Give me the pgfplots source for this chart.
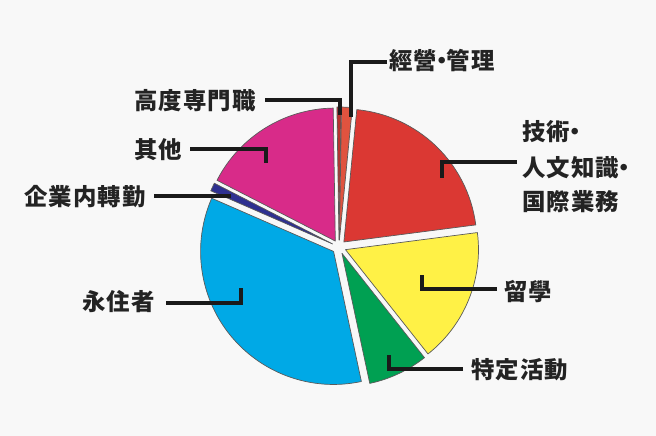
\documentclass[border=0pt]{standalone}
\usepackage{pgfplots}
\pgfplotsset{compat=1.18}
\usepackage{fontspec}
\newfontfamily\jp{Noto Sans CJK JP}[LetterSpace=5]

\definecolor{bgcol}{HTML}{F8F8F8}
\definecolor{edgecol}{HTML}{5A5A5A}
\definecolor{txtcol}{HTML}{232323}
\definecolor{linecol}{HTML}{1A1A1A}
\definecolor{hdcol}{HTML}{B8322E}
\definecolor{jmcol}{HTML}{E0533F}
\definecolor{gjcol}{HTML}{DB3833}
\definecolor{ryucol}{HTML}{FFF146}
\definecolor{tkcol}{HTML}{00A052}
\definecolor{eicol}{HTML}{00A9E6}
\definecolor{kgcol}{HTML}{2E3090}
\definecolor{etccol}{HTML}{D82B89}

% pie geometry, in picture pixels (y measured downwards)
\def\cx{339}
\def\cy{247}
\def\R{133}
\def\ex{7}

\newcommand{\dotsep}{\kern-0.3em・\kern-0.3em}

\begin{document}
\begin{tikzpicture}[
    lab/.style={font=\jp\bfseries\fontsize{23.5}{26}\selectfont, text=txtcol, inner sep=0pt, anchor=base west},
    lead/.style={draw=linecol, line width=3.2bp},
]
\begin{axis}[
    width=656bp, height=436bp, scale only axis,
    xmin=0, xmax=656, ymin=0, ymax=436,
    y dir=reverse,
    axis line style={draw=none},
    ticks=none,
    axis background/.style={fill=bgcol},
    clip=false,
]

% slices: share in percent / colour, clockwise from 12 o'clock
\pgfplotsextra{
  \gdef\cum{-0.9}
  \foreach \v/\c in {0.5/hdcol, 1.3/jmcol, 21.4/gjcol, 16.4/ryucol,
                     7.3/tkcol, 34.9/eicol, 1.0/kgcol, 17.2/etccol}{
    \pgfmathsetmacro\a{\cum}
    \pgfmathsetmacro\b{\cum+3.6*\v}
    \pgfmathsetmacro\m{(\a+\b)/2}
    \pgfmathsetmacro\px{\cx+\ex*sin(\m)}
    \pgfmathsetmacro\py{\cy-\ex*cos(\m)}
    \pgfmathsetmacro\sa{90-\a}
    \pgfmathsetmacro\ea{90-\b}
    \filldraw[fill=\c, draw=edgecol, line width=0.7bp, line join=round]
      (axis cs:\px,\py) -- ++(\sa:\R bp)
      arc[start angle=\sa, end angle=\ea, radius=\R bp] -- cycle;
    \xdef\cum{\b}
  }
}

% leader lines
\draw[lead] (axis cs:265,100) -- (axis cs:340,100) -- (axis cs:340,115);
\draw[lead] (axis cs:387,62) -- (axis cs:351,62) -- (axis cs:351,117);
\draw[lead] (axis cs:190,149) -- (axis cs:266,149) -- (axis cs:266,163);
\draw[lead] (axis cs:154,196) -- (axis cs:231,196);
\draw[lead] (axis cs:166,303) -- (axis cs:241,303) -- (axis cs:241,288);
\draw[lead] (axis cs:517,162) -- (axis cs:442,162) -- (axis cs:442,178);
\draw[lead] (axis cs:497,289) -- (axis cs:422,289) -- (axis cs:422,275);
\draw[lead] (axis cs:463,369) -- (axis cs:389,369) -- (axis cs:389,355);

% labels
\node[lab] at (axis cs:134,109) {高度専門職};
\node[lab] at (axis cs:389,70) {經營\dotsep 管理};
\node[lab] at (axis cs:134,158) {其他};
\node[lab] at (axis cs:24,205) {企業内轉勤};
\node[lab] at (axis cs:82,310) {永住者};
\node[lab] at (axis cs:522,140) {技術\dotsep};
\node[lab] at (axis cs:522,176) {人文知識\dotsep};
\node[lab] at (axis cs:522,210) {国際業務};
\node[lab] at (axis cs:504,300) {留學};
\node[lab] at (axis cs:471,378) {特定活動};
\end{axis}
\end{tikzpicture}
\end{document}
